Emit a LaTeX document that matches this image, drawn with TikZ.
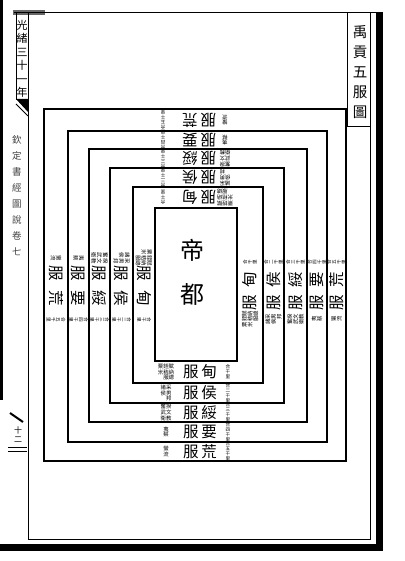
\documentclass[tikz,border=0pt]{standalone}
\usepackage{fontspec}
\newfontfamily\cjk{Noto Sans CJK TC}
\usetikzlibrary{positioning}

\begin{document}
\begin{tikzpicture}[x=1pt,y=-1pt,
  ring/.style={line width=1.4pt},
  frame/.style={line width=1pt},
  fu/.style={font=\cjk\fontsize{15.5}{15.5}\selectfont, inner sep=0pt},
  zhu/.style={font=\cjk\fontsize{5.4}{5.8}\selectfont, inner sep=0pt, align=center},
  he/.style={font=\cjk\fontsize{4.6}{4.9}\selectfont, inner sep=0pt, align=center},
  shuzi/.style={inner sep=0pt, align=center}]
\useasboundingbox (0,0) rectangle (404,561);

% page border
\fill (0,0) rectangle (3,400);
\fill (376,13) rectangle (383,551);
\fill (0,544) rectangle (383,551);
\fill[black!60] (13,10) rectangle (45,15);
\draw[frame] (14,13) -- (383,13);
\draw[frame] (28,13) -- (28,539) -- (370,539) -- (370,13);

% title box
\draw[frame] (347,13) -- (347,127) -- (370,127);
\node[shuzi, font=\cjk\fontsize{14.5}{20}\selectfont] (title) at (360,72) {禹\\貢\\五\\服\\圖};

% left margin
\draw[frame] (16,13) -- (16,100);
\node[shuzi, font=\cjk\fontsize{11}{13.5}\selectfont] (nian) at (22,59) {光\\緒\\三\\十\\一\\年};
\fill (16,99) -- (28,99) -- (28,112) -- cycle;
\draw[frame] (16,104) -- (28,116);
\node[shuzi, font=\cjk\fontsize{9.5}{16}\selectfont, text=black!75] (shu) at (17,196) {欽\\定\\書\\經\\圖\\說\\卷\\七};
\draw[line width=2pt] (10,413) -- (23,422);
\node[shuzi, font=\cjk\fontsize{8}{9}\selectfont] (ye) at (18,435) {十\\二};
\draw[frame] (8,447) -- (27,447);
\draw[frame] (8,451) -- (27,451);

% five rings round the capital
\foreach \l/\t/\r/\b in {155/208/237/361, 133/187/263/383, 110/168/284/403,
                         89/149/307/422, 68/131/327/442, 44/109/346/461}
  \draw[ring] (\l,\t) rectangle (\r,\b);

\node[font=\cjk\fontsize{24}{24}\selectfont, inner sep=0pt] (di) at (192,250) {帝};
\node[font=\cjk\fontsize{24}{24}\selectfont, inner sep=0pt] (du) [below=22pt of di] {都};

% band labels, each side turned to face the capital
\foreach \i/\zi/\note/\tot/\yb/\yt/\xl/\xr in {
    1/甸/{粟銍賦\\米秸納\\　服總}/{合\\千\\里}/372/197.5/144/250,
    2/侯/{諸采\\侯男\\　邦}/{合\\二\\千\\里}/393/177.5/121.5/273.5,
    3/綏/{奮揆\\武文\\衛教}/{合\\三\\千\\里}/412.5/158.5/99.5/295.5,
    4/要/{夷\\蔡}/{合\\四\\千\\里}/432/140/78.5/317,
    5/荒/{蠻\\流}/{合\\五\\千\\里}/451.5/120/56/336.5}
{
  \node[fu] (bot-\i) at (200,\yb) {服\kern3pt\zi};
  \node[zhu] (botn-\i) at (166,\yb) {\note};
  \node[he] (bott-\i) at (228,\yb) {\tot};
  \node[fu, rotate=180] (top-\i) at (199,\yt) {服\kern3pt\zi};
  \node[zhu, rotate=180] (topn-\i) at (225,\yt) {\note};
  \node[he, rotate=180] (topt-\i) at (163,\yt) {\tot};
  \node[fu, rotate=-90] (lft-\i) at (\xl,286) {服\kern10pt\zi};
  \node[zhu, rotate=-90] (lftn-\i) at (\xl,258) {\note};
  \node[he, rotate=-90] (lftt-\i) at (\xl,320) {\tot};
  \node[fu, rotate=90] (rgt-\i) at (\xr,291) {服\kern8pt\zi};
  \node[zhu, rotate=90] (rgtn-\i) at (\xr,319) {\note};
  \node[he, rotate=90] (rgtt-\i) at (\xr,262) {\tot};
}
\end{tikzpicture}
\end{document}
